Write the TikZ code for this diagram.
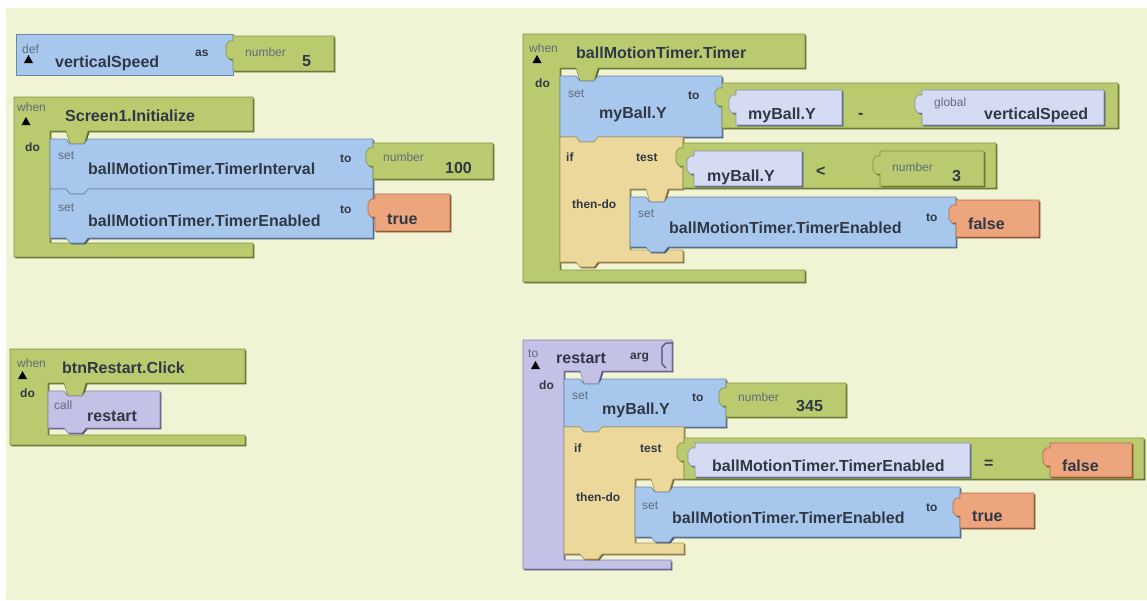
\documentclass[tikz,border=0pt]{standalone}
\usepackage{fontspec}
\setmainfont{Liberation Sans}
\definecolor{bgc}{RGB}{240,244,212}
\definecolor{bl}{RGB}{168,199,236}
\definecolor{blD}{RGB}{62,84,112}
\definecolor{gr}{RGB}{186,202,110}
\definecolor{grD}{RGB}{86,98,38}
\definecolor{lv}{RGB}{214,219,244}
\definecolor{lvD}{RGB}{72,76,110}
\definecolor{pu}{RGB}{196,193,230}
\definecolor{puD}{RGB}{80,76,120}
\definecolor{og}{RGB}{236,165,124}
\definecolor{ogD}{RGB}{120,64,36}
\definecolor{tn}{RGB}{236,216,154}
\definecolor{tnD}{RGB}{120,100,46}
\definecolor{txt}{RGB}{48,56,70}
\definecolor{smc}{RGB}{96,108,122}
% generic block: fill, dark, path
\newcommand\bkBox[3]{%
  \fill[#2,shift={(1.4,1.4)}] #3;
  \fill[#1] #3;
  \draw[#2!55!#1,line width=0.6pt,line join=round] #3;}
% statement block x1 y1 x2 y2 colour
\newcommand\bkStmt[5]{\bkBox{#5}{#5D}{(#1,#2) -- ({#1+16},#2) -- ({#1+20},{#2+5}) -- ({#1+34},{#2+5}) -- ({#1+38},#2) -- (#3,#2) -- (#3,#4) -- ({#1+38},#4) -- ({#1+34},{#4+5}) -- ({#1+20},{#4+5}) -- ({#1+16},#4) -- (#1,#4) -- cycle}}
% value block with left plug
\newcommand\bkVal[5]{\bkBox{#5}{#5D}{(#1,#2) -- (#3,#2) -- (#3,#4) -- (#1,#4) -- (#1,{#2+23}) -- ({#1-4},{#2+23}) -- ({#1-7},{#2+19}) -- ({#1-7},{#2+9}) -- ({#1-4},{#2+5}) -- (#1,{#2+5}) -- cycle}}
% event C block: x1 y1 x2 yt xc yb ye x2b colour
\newcommand\bkEvt[9]{\bkBox{#9}{#9D}{(#1,#2) -- (#3,#2) -- (#3,#4) -- ({#5+38},#4) -- ({#5+34},{#4+13}) -- ({#5+20},{#4+13}) -- ({#5+16},#4) -- (#5,#4) -- (#5,#6) -- (#8,#6) -- (#8,#7) -- (#1,#7) -- cycle}}
% if C block (statement): x1 y1 x2 yt xc yb ye x2b
\newcommand\bkIf[8]{\bkBox{tn}{tnD}{(#1,#2) -- ({#1+16},#2) -- ({#1+20},{#2+5}) -- ({#1+34},{#2+5}) -- ({#1+38},#2) -- (#3,#2) -- (#3,#4) -- ({#5+38},#4) -- ({#5+34},{#4+13}) -- ({#5+20},{#4+13}) -- ({#5+16},#4) -- (#5,#4) -- (#5,#6) -- (#8,#6) -- (#8,#7) -- ({#1+38},#7) -- ({#1+34},{#7+5}) -- ({#1+20},{#7+5}) -- ({#1+16},#7) -- (#1,#7) -- cycle}}
\newcommand\bkTri[2]{\fill[black] ({#1-4.5},#2) -- ({#1+4.5},#2) -- (#1,{#2-8}) -- cycle;}
\tikzset{
  lbl/.style={font=\bfseries\fontsize{16}{18}\selectfont, text=txt, anchor=base west, inner sep=0pt},
  sm/.style={font=\fontsize{12}{13}\selectfont, text=smc, anchor=base west, inner sep=0pt},
  kw/.style={font=\bfseries\fontsize{12}{13}\selectfont, text=txt, anchor=base west, inner sep=0pt},
}
\begin{document}
\begin{tikzpicture}[x=1pt,y=-1pt]
\useasboundingbox (0,0) rectangle (1147,600);
\fill[white] (0,0) rectangle (1147,600);
\fill[bgc] (6,8) rectangle (1147,600);

% ---------- def verticalSpeed ----------
\bkBox{bl}{blD}{(16,34) rectangle (233,75)}
\bkVal{233}{36}{334}{71}{gr}
\node[sm] (defA) at (22,53) {def};
\bkTri{28.5}{63}
\node[lbl] (defN) at (55,67) {verticalSpeed};
\node[kw] (defAs) at (195,56) {as};
\node[sm] (defNum) at (245,56) {number};
\node[lbl] (defV) at (302,66) {5};

% ---------- when Screen1.Initialize ----------
\bkEvt{14}{97}{253}{131}{50}{243}{257}{253}{gr}
\node[sm] (s1w) at (17,111) {when};
\bkTri{26}{125}
\node[lbl] (s1n) at (65,121) {Screen1.Initialize};
\node[kw] (s1do) at (25,151) {do};
\bkStmt{50}{139}{373}{189}{bl}
\node[sm] (s1set1) at (58,159) {set};
\node[lbl] (s1p1) at (88,174) {ballMotionTimer.TimerInterval};
\node[kw] (s1to1) at (340,162) {to};
\bkVal{373}{143}{493}{179}{gr}
\node[sm] (s1num) at (383,161) {number};
\node[lbl] (s1v1) at (445,173) {100};
\bkStmt{50}{189}{373}{238}{bl}
\node[sm] (s1set2) at (58,211) {set};
\node[lbl] (s1p2) at (88,226) {ballMotionTimer.TimerEnabled};
\node[kw] (s1to2) at (340,213) {to};
\bkVal{375}{194}{450}{231}{og}
\node[lbl] (s1v2) at (387,224) {true};

% ---------- when ballMotionTimer.Timer ----------
\bkEvt{523}{34}{805}{68}{560}{270}{282}{805}{gr}
\node[sm] (tw) at (529,52) {when};
\bkTri{537}{63}
\node[lbl] (tn) at (576,58) {ballMotionTimer.Timer};
\node[kw] (tdo) at (535,87) {do};
\bkStmt{560}{76}{722}{137}{bl}
\node[sm] (tset1) at (568,97) {set};
\node[lbl] (tp1) at (599,118) {myBall.Y};
\node[kw] (tto1) at (688,99) {to};
\bkVal{722}{83}{1118}{128}{gr}
\bkVal{736}{90}{842}{125}{lv}
\node[lbl] (tg1) at (748,119) {myBall.Y};
\node[lbl] (tminus) at (858,118) {-};
\bkVal{922}{90}{1104}{125}{lv}
\node[sm] (tglob) at (934,106) {global};
\node[lbl] (tg2) at (984,119) {verticalSpeed};
\bkIf{560}{137}{683}{189}{630}{250}{262}{683}
\node[kw] (tif) at (566,161) {if};
\node[kw] (ttest) at (636,161) {test};
\node[kw] (tthen) at (572,208) {then-do};
\bkVal{683}{143}{996}{188}{gr}
\bkVal{694}{151}{802}{186}{lv}
\node[lbl] (tg3) at (707,181) {myBall.Y};
\node[lbl] (tlt) at (816,176) {<};
\bkVal{880}{151}{984}{186}{gr}
\node[sm] (tnum) at (892,171) {number};
\node[lbl] (tv3) at (952,181) {3};
\bkStmt{630}{197}{956}{247}{bl}
\node[sm] (tset2) at (638,217) {set};
\node[lbl] (tp2) at (669,233) {ballMotionTimer.TimerEnabled};
\node[kw] (tto2) at (926,221) {to};
\bkVal{956}{200}{1039}{237}{og}
\node[lbl] (tfalse) at (968,229) {false};

% ---------- when btnRestart.Click ----------
\bkEvt{10}{349}{245}{383}{48}{435}{445}{245}{gr}
\node[sm] (bw) at (17,367) {when};
\bkTri{22.5}{379}
\node[lbl] (bn) at (62,373) {btnRestart.Click};
\node[kw] (bdo) at (20,397) {do};
\bkStmt{48}{391}{160}{428}{pu}
\node[sm] (bcall) at (54,409) {call};
\node[lbl] (brs) at (87,421) {restart};

% ---------- to restart ----------
\bkEvt{523}{340}{672}{371}{564}{560}{569}{671}{pu}
\draw[puD,line width=1.2pt,line join=round] (672,343) -- (666,343) -- (662,347) -- (662,364) -- (666,368);
\node[sm] (rto) at (528,357) {to};
\bkTri{535.5}{369}
\node[lbl] (rn) at (556,363) {restart};
\node[kw] (rarg) at (630,359) {arg};
\node[kw] (rdo) at (539,389) {do};
\bkStmt{564}{379}{726}{427}{bl}
\node[sm] (rset1) at (572,399) {set};
\node[lbl] (rp1) at (602,414) {myBall.Y};
\node[kw] (rto1) at (692,401) {to};
\bkVal{726}{383}{846}{417}{gr}
\node[sm] (rnum) at (738,401) {number};
\node[lbl] (rv1) at (796,411) {345};
\bkIf{564}{427}{684}{479}{635}{543}{554}{684}
\node[kw] (rif) at (574,452) {if};
\node[kw] (rtest) at (640,452) {test};
\node[kw] (rthen) at (576,501) {then-do};
\bkVal{684}{438}{1144}{479}{gr}
\bkVal{695}{443}{970}{477}{lv}
\node[lbl] (rg1) at (712,471) {ballMotionTimer.TimerEnabled};
\node[lbl] (req) at (984,468) {=};
\bkVal{1050}{443}{1132}{477}{og}
\node[lbl] (rfalse) at (1062,471) {false};
\bkStmt{635}{487}{960}{537}{bl}
\node[sm] (rset2) at (642,509) {set};
\node[lbl] (rp2) at (672,523) {ballMotionTimer.TimerEnabled};
\node[kw] (rto2) at (926,511) {to};
\bkVal{960}{493}{1034}{528}{og}
\node[lbl] (rtrue) at (972,521) {true};
\end{tikzpicture}
\end{document}
